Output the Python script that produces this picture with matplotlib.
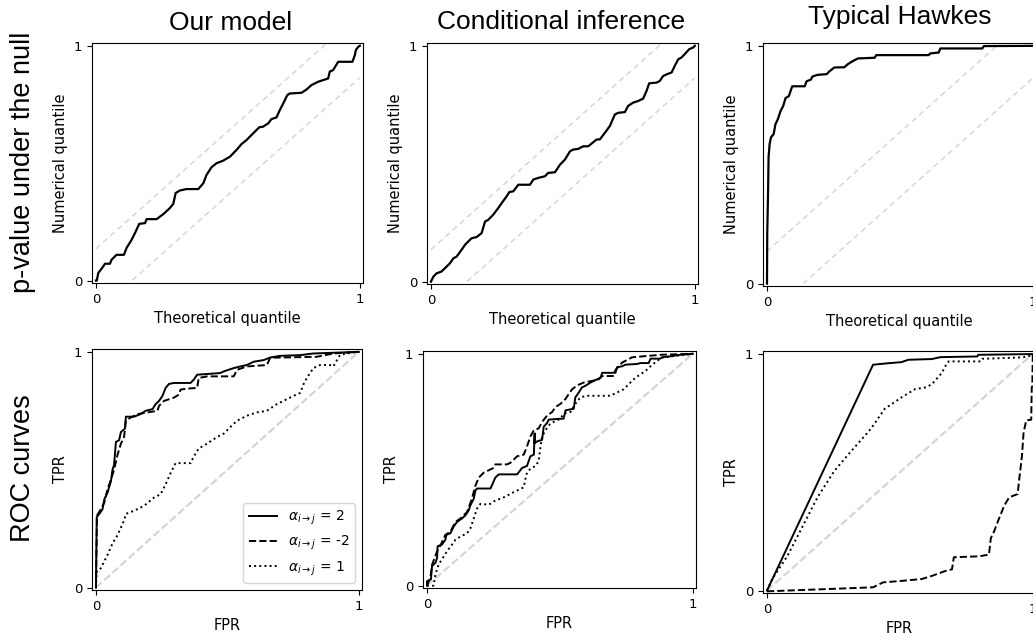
import numpy as np
import matplotlib
matplotlib.use("Agg")
import matplotlib.pyplot as plt

# QQ curves of p-values under the null (theoretical, numerical)
qq_ours_x = [0.0, 0.003, 0.009, 0.028, 0.034, 0.053, 0.059, 0.078, 0.106, 0.116, 0.135, 0.148, 0.164,
             0.186, 0.192, 0.230, 0.255, 0.280, 0.293, 0.302, 0.318, 0.343, 0.388, 0.407, 0.419, 0.438,
             0.457, 0.482, 0.508, 0.533, 0.552, 0.571, 0.583, 0.609, 0.619, 0.634, 0.653, 0.665, 0.684,
             0.697, 0.710, 0.725, 0.735, 0.779, 0.798, 0.817, 0.842, 0.880, 0.886, 0.899, 0.918, 0.972,
             0.981, 0.985, 0.994, 1.0]
qq_ours_y = [0.0, 0.0, 0.033, 0.061, 0.072, 0.072, 0.089, 0.110, 0.110, 0.139, 0.174, 0.203, 0.242,
             0.245, 0.262, 0.262, 0.283, 0.309, 0.327, 0.373, 0.384, 0.390, 0.390, 0.415, 0.450, 0.483,
             0.500, 0.511, 0.528, 0.557, 0.582, 0.599, 0.613, 0.642, 0.653, 0.656, 0.670, 0.688, 0.695,
             0.727, 0.755, 0.790, 0.797, 0.800, 0.814, 0.833, 0.847, 0.861, 0.890, 0.897, 0.932, 0.932,
             0.960, 0.982, 0.996, 1.0]

qq_cond_x = [0.0, 0.009, 0.021, 0.040, 0.053, 0.072, 0.085, 0.097, 0.116, 0.129, 0.141, 0.154, 0.173,
             0.192, 0.205, 0.217, 0.236, 0.255, 0.268, 0.287, 0.297, 0.312, 0.331, 0.375, 0.388, 0.407,
             0.432, 0.444, 0.470, 0.489, 0.508, 0.527, 0.539, 0.558, 0.577, 0.596, 0.628, 0.640, 0.659,
             0.678, 0.697, 0.710, 0.735, 0.747, 0.766, 0.785, 0.804, 0.817, 0.827, 0.855, 0.867, 0.880,
             0.893, 0.912, 0.924, 0.937, 0.949, 0.962, 0.979, 0.994, 1.0]
qq_cond_y = [0.0, 0.021, 0.035, 0.043, 0.057, 0.078, 0.099, 0.106, 0.135, 0.156, 0.170, 0.184, 0.189,
             0.206, 0.255, 0.262, 0.284, 0.312, 0.333, 0.362, 0.380, 0.383, 0.411, 0.411, 0.433, 0.440,
             0.447, 0.461, 0.464, 0.496, 0.518, 0.553, 0.560, 0.563, 0.574, 0.574, 0.603, 0.603, 0.631,
             0.660, 0.709, 0.716, 0.719, 0.745, 0.759, 0.766, 0.776, 0.809, 0.841, 0.844, 0.851, 0.872,
             0.879, 0.887, 0.915, 0.943, 0.950, 0.965, 0.986, 0.993, 1.0]

qq_hawkes_x = [0.0, 0.001, 0.004, 0.006, 0.010, 0.015, 0.025, 0.032, 0.041, 0.051, 0.061, 0.070, 0.082,
               0.095, 0.142, 0.149, 0.165, 0.171, 0.190, 0.225, 0.234, 0.253, 0.291, 0.304, 0.323, 0.342,
               0.405, 0.411, 0.608, 0.614, 0.646, 0.652, 0.810, 0.816, 1.0]
qq_hawkes_y = [0.0, 0.214, 0.380, 0.533, 0.588, 0.615, 0.629, 0.671, 0.692, 0.726, 0.747, 0.781, 0.788,
               0.830, 0.830, 0.851, 0.858, 0.871, 0.878, 0.881, 0.892, 0.909, 0.910, 0.923, 0.936, 0.947,
               0.950, 0.961, 0.961, 0.968, 0.972, 0.989, 0.989, 0.999, 1.0]

# ROC curves (FPR, TPR) per alpha value
roc_ours_2_x = [0.0, 0.003, 0.013, 0.025, 0.032, 0.044, 0.057, 0.063, 0.069, 0.076, 0.088, 0.095, 0.110,
                0.114, 0.145, 0.170, 0.189, 0.215, 0.227, 0.240, 0.253, 0.265, 0.278, 0.297, 0.360, 0.372,
                0.385, 0.473, 0.486, 0.524, 0.549, 0.574, 0.600, 0.638, 0.663, 0.701, 0.777, 0.827, 0.903, 1.0]
roc_ours_2_y = [0.0, 0.299, 0.313, 0.333, 0.375, 0.403, 0.451, 0.500, 0.521, 0.618, 0.625, 0.660, 0.674,
                0.725, 0.725, 0.736, 0.750, 0.757, 0.778, 0.792, 0.813, 0.847, 0.864, 0.868, 0.868, 0.882,
                0.903, 0.910, 0.917, 0.931, 0.938, 0.944, 0.958, 0.965, 0.976, 0.983, 0.986, 0.993, 0.996, 1.0]
roc_ours_m2_x = [0.0, 0.004, 0.019, 0.032, 0.044, 0.057, 0.069, 0.082, 0.095, 0.107, 0.114, 0.133, 0.158,
                 0.196, 0.234, 0.240, 0.259, 0.297, 0.316, 0.322, 0.347, 0.385, 0.391, 0.423, 0.524, 0.537,
                 0.574, 0.650, 0.663, 0.840, 0.903, 1.0]
roc_ours_m2_y = [0.0, 0.306, 0.333, 0.361, 0.417, 0.458, 0.500, 0.563, 0.611, 0.639, 0.708, 0.722, 0.736,
                 0.743, 0.750, 0.771, 0.792, 0.806, 0.819, 0.840, 0.844, 0.847, 0.889, 0.896, 0.896, 0.924,
                 0.938, 0.944, 0.975, 0.979, 0.993, 1.0]
roc_ours_1_x = [0.0, 0.003, 0.006, 0.019, 0.044, 0.063, 0.082, 0.107, 0.114, 0.145, 0.183, 0.221, 0.246,
                0.265, 0.284, 0.303, 0.360, 0.372, 0.391, 0.423, 0.461, 0.486, 0.511, 0.537, 0.574, 0.612,
                0.650, 0.688, 0.726, 0.751, 0.777, 0.789, 0.802, 0.827, 0.852, 0.890, 0.903, 0.928, 0.953, 1.0]
roc_ours_1_y = [0.0, 0.070, 0.069, 0.083, 0.139, 0.188, 0.222, 0.285, 0.313, 0.326, 0.347, 0.382, 0.396,
                0.438, 0.486, 0.528, 0.528, 0.556, 0.590, 0.611, 0.639, 0.653, 0.681, 0.708, 0.729, 0.743,
                0.750, 0.778, 0.799, 0.813, 0.826, 0.861, 0.889, 0.931, 0.944, 0.944, 0.938, 0.986, 0.993, 1.0]

roc_cond_2_x = [0.0, 0.0, 0.015, 0.019, 0.032, 0.038, 0.040, 0.056, 0.069, 0.073, 0.088, 0.100, 0.113,
                0.132, 0.145, 0.157, 0.163, 0.176, 0.182, 0.188, 0.239, 0.257, 0.270, 0.339, 0.358, 0.376,
                0.389, 0.402, 0.405, 0.405, 0.414, 0.433, 0.439, 0.452, 0.458, 0.502, 0.514, 0.521, 0.552,
                0.558, 0.571, 0.583, 0.596, 0.615, 0.640, 0.653, 0.659, 0.709, 0.715, 0.734, 0.746, 0.790,
                0.803, 0.834, 0.841, 0.878, 0.884, 0.916, 0.954, 0.991, 1.0]
roc_cond_2_y = [0.0, 0.019, 0.028, 0.085, 0.099, 0.120, 0.170, 0.177, 0.198, 0.219, 0.226, 0.254, 0.275,
                0.290, 0.304, 0.325, 0.346, 0.375, 0.410, 0.419, 0.419, 0.466, 0.480, 0.480, 0.508, 0.516,
                0.558, 0.565, 0.657, 0.615, 0.622, 0.629, 0.685, 0.702, 0.716, 0.720, 0.720, 0.756, 0.763,
                0.812, 0.833, 0.855, 0.862, 0.876, 0.890, 0.897, 0.918, 0.918, 0.942, 0.946, 0.953, 0.956,
                0.960, 0.960, 0.979, 0.979, 0.985, 0.989, 0.996, 0.999, 1.0]
roc_cond_m2_x = [0.0, 0.013, 0.019, 0.038, 0.052, 0.069, 0.088, 0.107, 0.126, 0.151, 0.169, 0.182, 0.195,
                 0.213, 0.251, 0.257, 0.301, 0.314, 0.339, 0.364, 0.376, 0.389, 0.402, 0.420, 0.433, 0.452,
                 0.471, 0.483, 0.502, 0.521, 0.533, 0.546, 0.565, 0.590, 0.621, 0.646, 0.659, 0.700, 0.709,
                 0.734, 0.772, 0.822, 0.885, 1.0]
roc_cond_m2_y = [0.0, 0.035, 0.090, 0.148, 0.177, 0.219, 0.233, 0.275, 0.290, 0.318, 0.375, 0.431, 0.466,
                 0.487, 0.508, 0.523, 0.523, 0.530, 0.558, 0.565, 0.600, 0.643, 0.671, 0.678, 0.706, 0.734,
                 0.749, 0.770, 0.784, 0.805, 0.826, 0.847, 0.864, 0.876, 0.883, 0.890, 0.904, 0.904, 0.930,
                 0.962, 0.985, 0.990, 0.996, 1.0]
roc_cond_1_x = [0.0, 0.025, 0.032, 0.044, 0.056, 0.075, 0.094, 0.107, 0.126, 0.151, 0.163, 0.176, 0.188,
                0.201, 0.232, 0.257, 0.289, 0.326, 0.364, 0.370, 0.376, 0.389, 0.408, 0.420, 0.427, 0.433,
                0.446, 0.464, 0.489, 0.502, 0.514, 0.540, 0.558, 0.577, 0.602, 0.690, 0.715, 0.740, 0.765,
                0.784, 0.803, 0.828, 0.847, 0.866, 0.878, 0.916, 0.978, 1.0]
roc_cond_1_y = [0.0, 0.0, 0.050, 0.092, 0.113, 0.148, 0.177, 0.198, 0.212, 0.226, 0.247, 0.290, 0.332,
                0.353, 0.349, 0.367, 0.381, 0.403, 0.424, 0.459, 0.487, 0.504, 0.516, 0.537, 0.600, 0.643,
                0.671, 0.699, 0.713, 0.720, 0.742, 0.749, 0.784, 0.812, 0.819, 0.819, 0.833, 0.847, 0.876,
                0.897, 0.911, 0.932, 0.953, 0.968, 0.982, 0.989, 0.996, 1.0]

roc_hawkes_2_x = [0.0, 0.399, 0.443, 0.506, 0.532, 0.620, 0.652, 0.791, 0.795, 1.0]
roc_hawkes_2_y = [0.0, 0.954, 0.959, 0.965, 0.975, 0.978, 0.986, 0.989, 0.996, 0.999]
roc_hawkes_m2_x = [0.0, 0.399, 0.437, 0.506, 0.582, 0.620, 0.671, 0.696, 0.703, 0.798, 0.835, 0.842,
                   0.854, 0.873, 0.893, 0.911, 0.943, 0.949, 0.959, 0.965, 0.975, 0.994, 0.996, 0.998, 1.0]
roc_hawkes_m2_y = [-0.003, 0.014, 0.035, 0.041, 0.049, 0.062, 0.083, 0.090, 0.141, 0.145, 0.152, 0.221,
                   0.249, 0.305, 0.360, 0.394, 0.408, 0.471, 0.567, 0.664, 0.719, 0.722, 0.858, 0.865, 1.0]
roc_hawkes_1_x = [0.0, 0.019, 0.076, 0.127, 0.190, 0.253, 0.316, 0.392, 0.443, 0.506, 0.557, 0.595, 0.620,
                  0.658, 0.677, 0.684, 0.804, 0.810, 0.962, 0.994, 1.0]
roc_hawkes_1_y = [0.0, 0.048, 0.145, 0.256, 0.394, 0.505, 0.588, 0.685, 0.768, 0.816, 0.851, 0.858, 0.871,
                  0.920, 0.961, 0.968, 0.968, 0.979, 0.985, 0.993, 1.0]

col_titles = ["Our model", "Conditional inference", "Typical Hawkes"]
row_titles = ["p-value under the null", "ROC curves"]
alpha_labels = [r"$\alpha_{i\rightarrow j}$ = 2", r"$\alpha_{i\rightarrow j}$ = -2", r"$\alpha_{i\rightarrow j}$ = 1"]
ks_band = 0.136

W, H = 1033, 640
fig = plt.figure(figsize=(W / 100, H / 100), dpi=100)


def axes_px(left, top, right, bottom):
    return fig.add_axes([left / W, 1 - bottom / H, (right - left) / W, (bottom - top) / H])


top_boxes = [(92, 43, 363, 283), (427, 43, 698, 284), (763, 43, 1036, 286)]
bot_boxes = [(92, 349, 362, 590), (423, 351, 696, 588), (763, 351, 1036, 593)]
# column title anchors (x centre, baseline) in pixels
title_pos = [(231, 30), (561, 29), (900, 24)]

qq_curves = [(qq_ours_x, qq_ours_y), (qq_cond_x, qq_cond_y), (qq_hawkes_x, qq_hawkes_y)]
roc_curves = [
    [(roc_ours_2_x, roc_ours_2_y), (roc_ours_m2_x, roc_ours_m2_y), (roc_ours_1_x, roc_ours_1_y)],
    [(roc_cond_2_x, roc_cond_2_y), (roc_cond_m2_x, roc_cond_m2_y), (roc_cond_1_x, roc_cond_1_y)],
    [(roc_hawkes_2_x, roc_hawkes_2_y), (roc_hawkes_m2_x, roc_hawkes_m2_y), (roc_hawkes_1_x, roc_hawkes_1_y)],
]
styles = ["-", "--", ":"]
title_font = ["Liberation Sans", "Arial", "DejaVu Sans"]


def style_axes(ax, xlabel, ylabel):
    ax.set_xlim(-0.015, 1.012)
    ax.set_ylim(-0.01, 1.012)
    ax.set_xticks([0, 1])
    ax.set_yticks([0, 1])
    ax.tick_params(labelsize=9.5)
    ax.set_xlabel(xlabel, fontsize=10.5)
    ax.set_ylabel(ylabel, fontsize=10.5)


for k in range(3):
    ax = axes_px(*top_boxes[k])
    grid = np.array([0.0, 1.0])
    ax.plot(grid, grid + ks_band, color="lightgray", lw=1, ls=(0, (4, 3)))
    ax.plot(grid, grid - ks_band, color="lightgray", lw=1, ls=(0, (4, 3)))
    ax.plot(*qq_curves[k], color="black", lw=1.6)
    style_axes(ax, "Theoretical quantile", "Numerical quantile")
    tx, ty = title_pos[k]
    fig.text(tx / W, 1 - ty / H, col_titles[k], ha="center", va="baseline",
             fontsize=19, family=title_font)

    ax = axes_px(*bot_boxes[k])
    ax.plot([0, 1], [0, 1], color="lightgray", lw=1.5, ls="--")
    for (x, y), ls, lab in zip(roc_curves[k], styles, alpha_labels):
        ax.plot(x, y, color="black", lw=1.4, ls=ls, label=lab)
    style_axes(ax, "FPR", "TPR")
    if k == 0:
        ax.legend(loc="lower right", fontsize=10)

fig.text(23 / W, 1 - 162 / H, row_titles[0], rotation=90, ha="center", va="center",
         fontsize=19.5, family=title_font)
fig.text(23 / W, 1 - 468 / H, row_titles[1], rotation=90, ha="center", va="center",
         fontsize=19.5, family=title_font)

fig.savefig("out.png", dpi=100)
